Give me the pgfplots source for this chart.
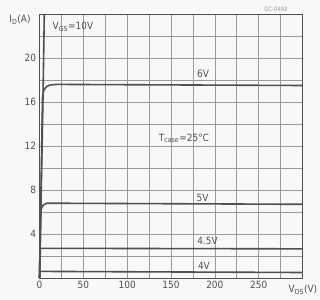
\documentclass[border=0pt]{standalone}
\usepackage{fontspec}
\setmainfont{DejaVu Sans Condensed}
\usepackage{pgfplots}
\pgfplotsset{compat=1.18}
\definecolor{ink}{HTML}{505050}
\definecolor{gridc}{HTML}{9A9A9A}
\definecolor{paper}{HTML}{F8F8F6}
\begin{document}
\begin{tikzpicture}[x=1bp,y=1bp]
\fill[paper] (-39.5bp,-22bp) rectangle (280.5bp,278bp);
\useasboundingbox (-39.5bp,-22bp) rectangle (280.5bp,278bp);
\begin{axis}[
  scale only axis, width=263bp, height=264bp,
  anchor=south west, at={(0,0)},
  xmin=0, xmax=300, ymin=0, ymax=24,
  xtick={0,50,...,250}, ytick={4,8,...,20},
  minor xtick={25,75,...,300}, minor ytick={2,6,...,22},
  grid=both,
  major grid style={gridc, line width=0.6bp},
  minor grid style={gridc, line width=0.6bp},
  axis line style={ink, line width=0.8bp},
  tick style={draw=none},
  ticklabel style={font=\fontsize{10}{12}\selectfont, text=ink},
  /pgf/number format/assume math mode=true,
  clip=false,
  every axis plot/.append style={ink, line width=1.6bp},
]
\addplot[no markers] coordinates {(0,0) (2,8) (4,16.5) (5.5,24)};
\addplot[no markers] coordinates {(0,0) (3.5,16.5) (5,17.1) (8,17.4) (12,17.55) (20,17.6) (300,17.5)};
\addplot[no markers] coordinates {(0,0) (1.5,6.2) (4,6.6) (8,6.8) (300,6.7)};
\addplot[no markers] coordinates {(0,0) (1,2.7) (300,2.65)};
\addplot[no markers] coordinates {(0,0) (0.5,0.6) (300,0.5)};
\begin{scope}[every node/.style={text=ink, font=\fontsize{10}{12}\selectfont, inner sep=0pt}]
\node at (axis cs:38.2,22.8) {V\textsubscript{GS}=10V};
\node at (axis cs:186.5,18.6) {6V};
\node at (axis cs:164.8,12.7) {T\textsubscript{case}=25°C};
\node at (axis cs:185.9,7.3) {5V};
\node at (axis cs:191.6,3.36) {4.5V};
\node at (axis cs:187.6,1.09) {4V};
\node at (axis cs:-22.2,23.5) {I\textsubscript{D}(A)};
\node[anchor=west] at (axis cs:284,-1.1) {V\textsubscript{DS}(V)};
\node[font=\fontsize{6}{7}\selectfont, text=gridc] at (axis cs:269.8,24.45) {GC-0492};
\end{scope}
\end{axis}
\end{tikzpicture}
\end{document}
